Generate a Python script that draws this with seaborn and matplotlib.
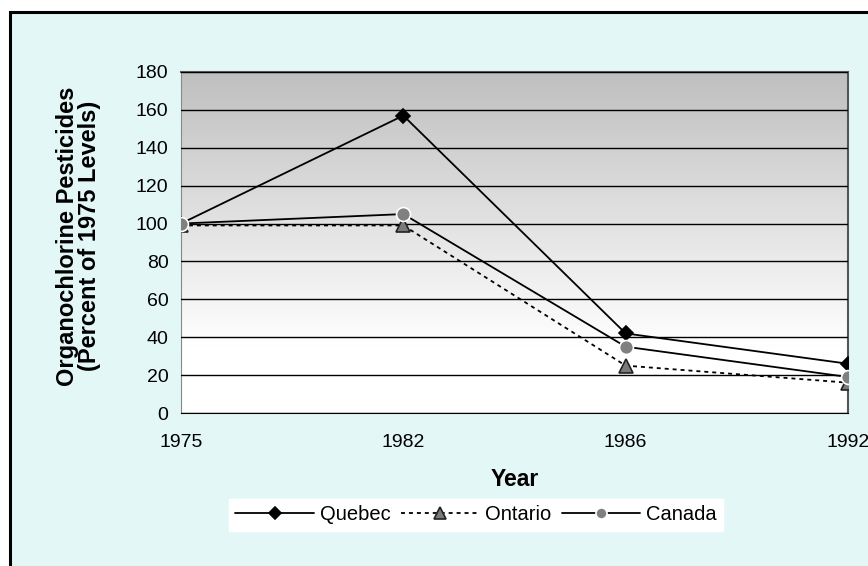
import matplotlib
matplotlib.use('Agg')
import matplotlib.pyplot as plt
import numpy as np
import pandas as pd
import seaborn as sns
from matplotlib.patches import Rectangle

sns.set_style('white')
plt.rcParams['font.family'] = ['Liberation Sans', 'DejaVu Sans']
plt.rcParams['text.color'] = 'black'
plt.rcParams['axes.labelcolor'] = 'black'

# data
years = ['1975', '1982', '1986', '1992']
quebec = [100, 157, 42, 26]
ontario = [99, 99, 25, 16]
canada = [100, 105, 35, 19]

df = pd.DataFrame({'Year': years, 'Quebec': quebec, 'Ontario': ontario, 'Canada': canada})

fig = plt.figure(figsize=(8.68, 5.66), dpi=100)
fig.patch.set_facecolor('white')

# outer chart frame, cut off at the right and bottom like the original
top = 1 - 12 / 566
frame = Rectangle((10 / 868, -0.2), 1.2, top + 0.2, transform=fig.transFigure,
                  facecolor='#E4F7F7', edgecolor='black', linewidth=2.2, zorder=-5)
fig.patches.append(frame)

ax = fig.add_axes([181 / 868, 1 - 413 / 566, (848 - 181) / 868, (413 - 72) / 566])
ax.patch.set_alpha(0)

# gray-to-white gradient in the plot area
grad = np.clip(np.linspace(0.75, 1.06, 256), 0, 1).reshape(-1, 1)
ax.imshow(np.dstack([grad, grad, grad]), extent=[0, 3, 0, 180], origin='upper',
          aspect='auto', zorder=0, interpolation='bicubic')

styles = {
    'Quebec': dict(marker='D', linestyle='-', markersize=7.5, mfc='black', mec='black'),
    'Ontario': dict(marker='^', linestyle=(0, (2.2, 2.2)), markersize=10, mfc='#7a7a7a', mec='#222222'),
    'Canada': dict(marker='o', linestyle='-', markersize=10, mfc='#808080', mec='white'),
}

for name in ['Quebec', 'Ontario', 'Canada']:
    st = styles[name]
    sns.lineplot(data=df, x=df.index, y=name, ax=ax, color='black', linewidth=1.3,
                 linestyle=st['linestyle'], marker=st['marker'], markersize=st['markersize'],
                 markerfacecolor=st['mfc'], markeredgecolor=st['mec'], markeredgewidth=1.2,
                 zorder=4, label=name, legend=False)

ax.set_xlim(0, 3)
ax.set_ylim(0, 180)
ax.set_xticks(range(len(years)))
ax.set_xticklabels(years)
ax.set_yticks(range(0, 181, 20))
ax.grid(axis='y', color='black', linewidth=1)
ax.set_axisbelow(False)
for s in ['top', 'right']:
    ax.spines[s].set_color('#555555')
    ax.spines[s].set_linewidth(1.5)
ax.spines['left'].set_color('#888888')
ax.spines['bottom'].set_color('black')
ax.tick_params(axis='both', which='both', direction='out', length=5, width=1,
               labelsize=14, colors='black', pad=4)
ax.tick_params(axis='x', pad=10)
ax.tick_params(axis='y', color='#555555')

ax.set_xlabel('Year', fontsize=16.5, fontweight='bold', labelpad=12)
ax.set_ylabel('Organochlorine Pesticides\n(Percent of 1975 Levels)', fontsize=17,
              fontweight='bold', linespacing=0.95)
ax.yaxis.set_label_coords(-0.12, 0.519)

handles, labels = ax.get_legend_handles_labels()
leg = fig.legend(handles, labels, loc='center', bbox_to_anchor=(476 / 868, 1 - 515 / 566),
                 ncol=3, frameon=True, fontsize=14.5, handlelength=3.9, handletextpad=0.3,
                 columnspacing=0.5, borderpad=0.3, fancybox=False, framealpha=1,
                 labelcolor='black')
leg.get_frame().set_edgecolor('white')
leg.get_frame().set_facecolor('white')
for h in leg.legend_handles:
    h.set_markersize(h.get_markersize() * 0.8)

fig.savefig('out.png', dpi=100, facecolor=fig.get_facecolor())
